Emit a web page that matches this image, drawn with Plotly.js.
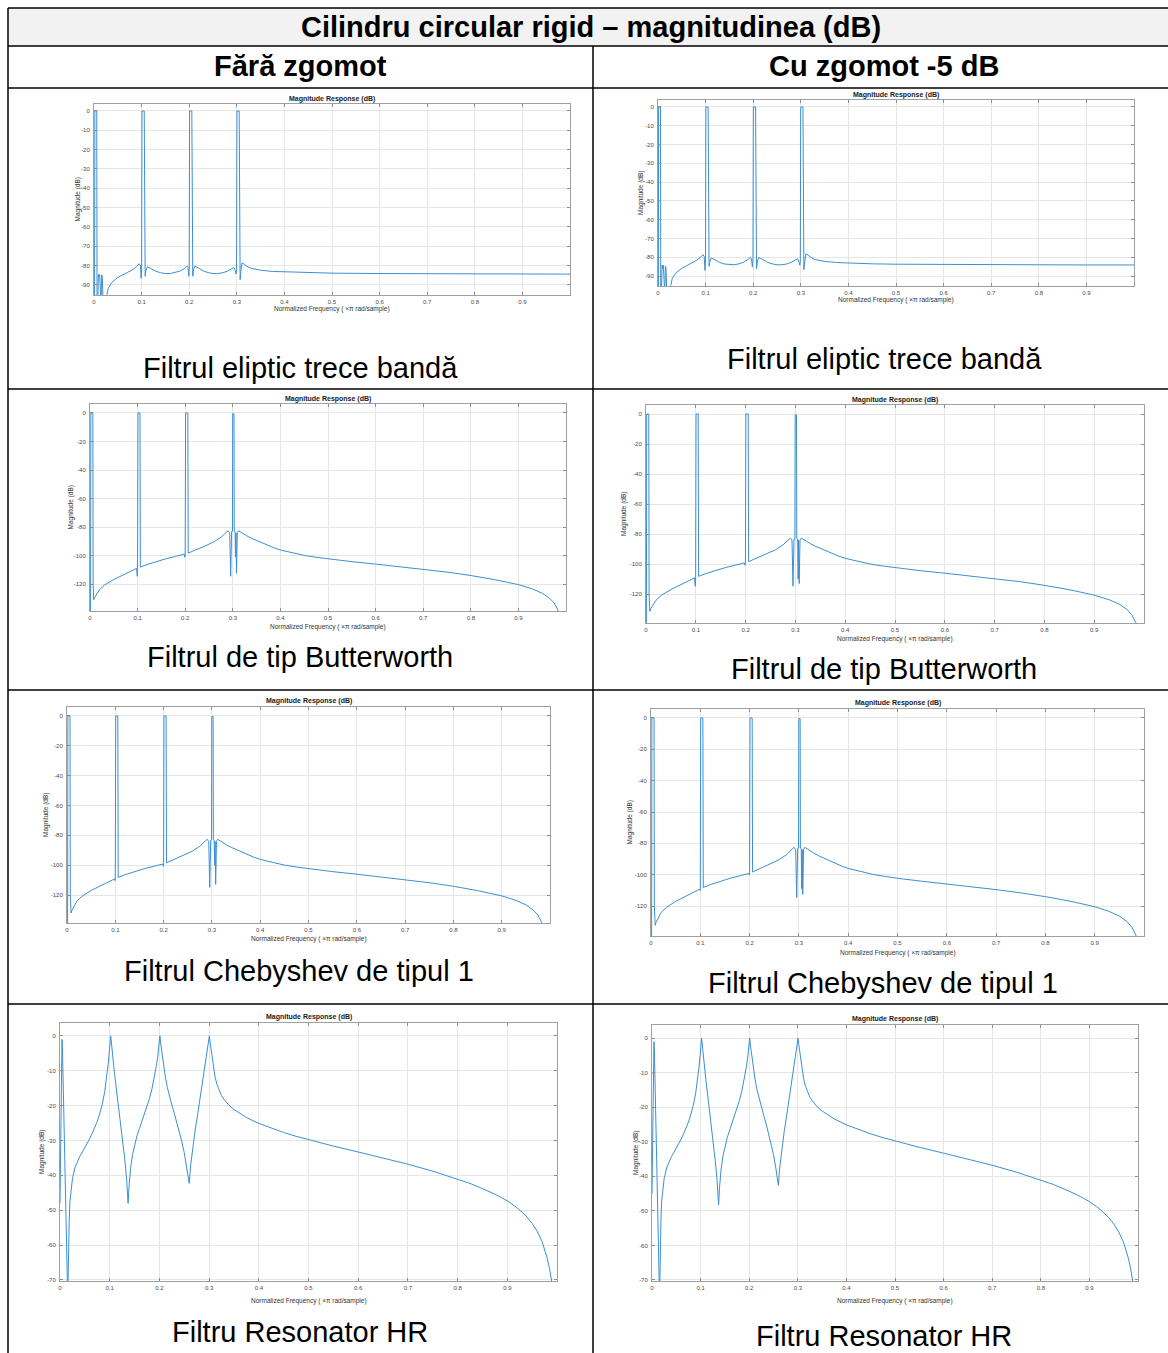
<!DOCTYPE html>
<html><head><meta charset="utf-8">
<script src="https://cdn.plot.ly/plotly-3.0.1.min.js"></script>
<style>html,body{margin:0;padding:0;background:#fff}</style>
</head><body><div id="chart" style="width:1168px;height:1353px"></div>
<script>
// ---------- DATA (normalized frequency, magnitude dB) ----------
const ellipticClean = [[0,-100],[0.0012,-100],[0.0018,0],[0.0058,0],[0.0064,-100],[0.0078,-100],[0.0092,-84.6],[0.0105,-86],[0.0118,-84.6],[0.0132,-100],[0.0148,-100],[0.0162,-84.8],[0.0176,-86.5],[0.0192,-100],[0.024,-100],[0.027,-95],[0.03,-91.8],[0.035,-89.6],[0.04,-88.1],[0.05,-86.1],[0.06,-84.9],[0.07,-83.7],[0.08,-82.3],[0.09,-80.4],[0.095,-79],[0.0975,-79.8],[0.099,-86.5],[0.1,-82],[0.1008,0],[0.1055,0],[0.1063,-82],[0.1075,-85.5],[0.109,-82.5],[0.112,-80.6],[0.12,-81.6],[0.13,-82.9],[0.14,-83.7],[0.15,-84.1],[0.16,-84.1],[0.17,-83.6],[0.18,-82.9],[0.19,-81.5],[0.195,-80.2],[0.1975,-80.9],[0.199,-85.5],[0.2,-82],[0.2008,0],[0.2055,0],[0.2063,-82],[0.2075,-85.5],[0.209,-82],[0.212,-80.3],[0.22,-81.3],[0.23,-82.8],[0.24,-83.6],[0.25,-84.1],[0.26,-84.1],[0.27,-83.7],[0.28,-82.9],[0.29,-81.6],[0.294,-81],[0.2965,-82.5],[0.2985,-84.3],[0.2995,-82],[0.3003,0],[0.305,0],[0.3058,-84],[0.307,-87.3],[0.3085,-83],[0.311,-78.6],[0.315,-79.1],[0.32,-80.2],[0.33,-81.4],[0.35,-82.4],[0.375,-83],[0.4,-83.2],[0.45,-83.7],[0.5,-83.9],[0.6,-84.1],[0.7,-84.2],[0.8,-84.3],[0.9,-84.4],[1.0,-84.4]];

const ellipticNoisy = [[0,-100],[0.0008,-100],[0.0012,0],[0.0052,0],[0.0058,-100],[0.0072,-100],[0.0086,-84.3],[0.01,-86],[0.0113,-84.3],[0.0128,-100],[0.0142,-100],[0.0156,-84.6],[0.017,-86.5],[0.0186,-100],[0.024,-100],[0.027,-95],[0.03,-91.2],[0.035,-89.2],[0.04,-87.8],[0.05,-85.9],[0.06,-84.6],[0.07,-83.3],[0.08,-81.8],[0.09,-79.9],[0.0945,-78.6],[0.097,-79.5],[0.0988,-87],[0.0998,-82],[0.1006,0],[0.1053,0],[0.1061,-82],[0.1073,-84.8],[0.1088,-82.5],[0.112,-80.4],[0.12,-81.4],[0.13,-82.8],[0.14,-83.6],[0.15,-84],[0.16,-84],[0.17,-83.5],[0.18,-82.6],[0.19,-81],[0.194,-80],[0.1965,-80.9],[0.1983,-85.2],[0.1995,-82],[0.2003,0],[0.205,0],[0.2058,-82],[0.207,-86.2],[0.2088,-82],[0.2118,-80.1],[0.22,-81.2],[0.23,-82.7],[0.24,-83.5],[0.25,-84],[0.26,-84],[0.27,-83.6],[0.28,-82.7],[0.29,-81.3],[0.2935,-80.8],[0.296,-82.4],[0.2978,-84.2],[0.299,-82],[0.2998,0],[0.3045,0],[0.3053,-83.5],[0.3065,-86.6],[0.308,-83],[0.3108,-78.2],[0.315,-78.8],[0.32,-79.9],[0.33,-81.2],[0.35,-82.2],[0.375,-82.8],[0.4,-83.1],[0.45,-83.5],[0.5,-83.7],[0.6,-83.9],[0.7,-84],[0.8,-84],[0.9,-84.1],[1.0,-84.1]];

const butterClean = [[0,-150],[0.0012,-150],[0.0018,0],[0.006,0],[0.0066,-120],[0.0078,-131],[0.01,-129.3],[0.015,-126.3],[0.02,-124],[0.03,-120.8],[0.04,-118.6],[0.05,-116.8],[0.06,-115.2],[0.07,-113.7],[0.08,-112.2],[0.09,-110.5],[0.098,-109],[0.0993,-114.5],[0.1,-109],[0.1008,0],[0.105,0],[0.1058,-108.2],[0.107,-107.9],[0.12,-106.3],[0.14,-104.1],[0.16,-102.2],[0.18,-100.6],[0.198,-99],[0.1993,-101.2],[0.2,-99],[0.2008,0],[0.2055,0],[0.2063,-98.3],[0.208,-98],[0.22,-96.3],[0.24,-93.6],[0.26,-90.4],[0.275,-87.2],[0.285,-84.3],[0.29,-82.6],[0.2935,-84],[0.2955,-114.5],[0.2975,-83.2],[0.2993,-83],[0.2998,-0.5],[0.3025,-0.5],[0.303,-83],[0.3048,-83.3],[0.3057,-101],[0.3066,-84],[0.3078,-112.5],[0.3095,-84],[0.312,-82.6],[0.32,-84.4],[0.33,-86.3],[0.34,-88],[0.35,-89.5],[0.3625,-91.3],[0.375,-93],[0.3875,-94.7],[0.4,-96.1],[0.425,-98.2],[0.45,-99.9],[0.475,-101.2],[0.5,-102.4],[0.55,-104.3],[0.6,-106],[0.65,-107.7],[0.7,-109.5],[0.75,-111.6],[0.8,-114],[0.85,-116.9],[0.9,-120.4],[0.93,-123.5],[0.95,-126.4],[0.965,-129.8],[0.975,-133.3],[0.985,-139.5],[0.99,-150]];

const butterNoisy = [[0,-150],[0.0008,-150],[0.0014,0],[0.0056,0],[0.0062,-120],[0.0076,-131.5],[0.01,-129.5],[0.015,-126.5],[0.02,-124.2],[0.03,-121],[0.04,-118.8],[0.05,-117],[0.06,-115.4],[0.07,-113.8],[0.08,-112.3],[0.09,-110.6],[0.0975,-109.2],[0.099,-114.8],[0.0997,-109],[0.1005,0],[0.1048,0],[0.1056,-108.4],[0.107,-108],[0.12,-106.4],[0.14,-104.2],[0.16,-102.3],[0.18,-100.7],[0.1975,-99.2],[0.199,-100.8],[0.1997,-99],[0.2005,0],[0.2052,0],[0.206,-98.4],[0.208,-98.1],[0.22,-96.4],[0.24,-93.7],[0.26,-90.5],[0.275,-87.3],[0.285,-84.4],[0.29,-82.7],[0.2932,-84],[0.2952,-114.8],[0.2972,-83.3],[0.299,-83],[0.2996,-0.6],[0.3022,-0.6],[0.3028,-83],[0.3045,-83.4],[0.3055,-110],[0.3064,-84],[0.3076,-113],[0.3093,-84],[0.3118,-82.7],[0.32,-84.5],[0.33,-86.4],[0.34,-88.1],[0.35,-89.6],[0.3625,-91.4],[0.375,-93.1],[0.3875,-94.8],[0.4,-96.2],[0.425,-98.3],[0.45,-100],[0.475,-101.3],[0.5,-102.5],[0.55,-104.4],[0.6,-106.1],[0.65,-107.8],[0.7,-109.6],[0.75,-111.7],[0.8,-114.2],[0.85,-117.1],[0.9,-120.7],[0.93,-123.8],[0.95,-126.7],[0.965,-130.1],[0.975,-133.6],[0.985,-139.8],[0.99,-150]];

const chebyClean = [[0,-150],[0.0012,-150],[0.0018,0],[0.0062,0],[0.0068,-120],[0.0085,-132],[0.01,-130.4],[0.015,-126.8],[0.02,-124.3],[0.03,-121],[0.04,-118.7],[0.05,-116.9],[0.06,-115.3],[0.07,-113.7],[0.08,-112.2],[0.09,-110.5],[0.0985,-109.2],[0.0995,-110.3],[0.1,-109],[0.1008,0],[0.1052,0],[0.106,-108.3],[0.107,-108],[0.12,-106.4],[0.14,-104.2],[0.16,-102.3],[0.18,-100.7],[0.198,-99.2],[0.1993,-100.6],[0.2,-99],[0.2008,0],[0.2052,0],[0.206,-98.4],[0.208,-98.1],[0.22,-96.4],[0.24,-93.7],[0.26,-90.5],[0.275,-87.3],[0.285,-84.4],[0.29,-82.6],[0.2935,-84],[0.2955,-114.8],[0.2975,-83.2],[0.2993,-83],[0.2998,-0.3],[0.3025,-0.3],[0.303,-83],[0.3048,-83.3],[0.3057,-100],[0.3066,-84],[0.3078,-112.8],[0.3095,-84],[0.312,-82.6],[0.32,-84.4],[0.33,-86.3],[0.34,-88],[0.35,-89.5],[0.3625,-91.3],[0.375,-93],[0.3875,-94.7],[0.4,-96.1],[0.425,-98.2],[0.45,-99.9],[0.475,-101.2],[0.5,-102.4],[0.55,-104.3],[0.6,-106],[0.65,-107.8],[0.7,-109.6],[0.75,-111.7],[0.8,-114.1],[0.85,-117],[0.9,-120.5],[0.93,-123.6],[0.95,-126.5],[0.965,-129.9],[0.975,-133.4],[0.985,-139.6],[0.99,-150]];

const chebyNoisy = [[0,-150],[0.0012,-150],[0.0018,0],[0.0062,0],[0.0068,-120],[0.0085,-132.3],[0.01,-130.5],[0.015,-126.9],[0.02,-124.4],[0.03,-121.1],[0.04,-118.8],[0.05,-117],[0.06,-115.4],[0.07,-113.8],[0.08,-112.3],[0.09,-110.6],[0.0985,-109.3],[0.0995,-110],[0.1,-109.1],[0.1008,0],[0.1052,0],[0.106,-108.3],[0.107,-108],[0.12,-106.4],[0.14,-104.2],[0.16,-102.3],[0.18,-100.7],[0.198,-99.2],[0.1993,-100.2],[0.2,-99],[0.2008,0],[0.2052,0],[0.206,-98.3],[0.208,-98],[0.22,-96.3],[0.24,-93.6],[0.26,-90.4],[0.275,-87.2],[0.285,-84.3],[0.29,-82.5],[0.2935,-84],[0.2955,-114.6],[0.2975,-83.2],[0.2993,-83],[0.2998,-0.4],[0.3025,-0.4],[0.303,-83],[0.3048,-83.3],[0.3057,-109],[0.3066,-84],[0.3078,-112.6],[0.3095,-84],[0.312,-82.5],[0.32,-84.3],[0.33,-86.2],[0.34,-87.9],[0.35,-89.4],[0.3625,-91.2],[0.375,-92.9],[0.3875,-94.6],[0.4,-96],[0.425,-98.1],[0.45,-99.8],[0.475,-101.1],[0.5,-102.3],[0.55,-104.2],[0.6,-105.9],[0.65,-107.7],[0.7,-109.5],[0.75,-111.6],[0.8,-114],[0.85,-116.9],[0.9,-120.4],[0.93,-123.5],[0.95,-126.4],[0.965,-129.8],[0.975,-133.3],[0.985,-139.5],[0.99,-150]];

const resonatorClean = [[0,-48],[0.001,-30],[0.002,-14],[0.003,-5],[0.004,-1],[0.005,-4],[0.006,-11],[0.008,-27],[0.01,-42],[0.012,-55],[0.014,-66],[0.015,-72],[0.016,-72],[0.017,-62],[0.0185,-53],[0.02,-47.5],[0.022,-44],[0.025,-41],[0.03,-37.8],[0.035,-35.9],[0.04,-34.5],[0.045,-33.3],[0.05,-32.1],[0.055,-30.8],[0.06,-29.4],[0.065,-27.9],[0.07,-26.3],[0.075,-24.5],[0.08,-22.3],[0.085,-19.6],[0.09,-16],[0.094,-12],[0.097,-8],[0.099,-5],[0.1005,-2.5],[0.102,0],[0.1035,-2],[0.105,-4.5],[0.108,-8.5],[0.112,-13.5],[0.116,-18],[0.12,-22.6],[0.125,-28.5],[0.13,-35],[0.134,-41],[0.137,-48],[0.139,-43],[0.142,-38],[0.146,-34],[0.15,-31.2],[0.155,-28.6],[0.16,-26.5],[0.165,-24.5],[0.17,-22.5],[0.175,-20.4],[0.18,-18],[0.185,-15.2],[0.19,-11.8],[0.194,-8.5],[0.197,-5.5],[0.1995,-2.5],[0.201,0],[0.2025,-2],[0.205,-4.8],[0.208,-8],[0.212,-11.8],[0.216,-14.8],[0.22,-17.2],[0.225,-19.8],[0.23,-22.2],[0.235,-24.7],[0.24,-27.4],[0.245,-30.3],[0.25,-33.5],[0.255,-37.5],[0.26,-42.3],[0.263,-37],[0.267,-32],[0.272,-27],[0.277,-22.5],[0.282,-18],[0.287,-13.2],[0.291,-9],[0.295,-5],[0.298,-2.5],[0.3005,0],[0.302,-1.8],[0.305,-5.2],[0.308,-8.6],[0.312,-11.8],[0.316,-14],[0.32,-15.6],[0.325,-17.1],[0.33,-18.2],[0.34,-19.9],[0.35,-21.1],[0.36,-22.1],[0.375,-23.4],[0.4,-25.1],[0.425,-26.5],[0.45,-27.7],[0.475,-28.8],[0.5,-29.8],[0.55,-31.6],[0.6,-33.3],[0.65,-35],[0.7,-36.8],[0.75,-38.8],[0.8,-41],[0.825,-42.3],[0.85,-43.8],[0.875,-45.4],[0.9,-47.3],[0.915,-48.8],[0.93,-50.6],[0.94,-52],[0.95,-53.8],[0.96,-56],[0.97,-59],[0.975,-61],[0.98,-63.6],[0.985,-66.8],[0.99,-71]];

const resonatorNoisy = [[0,-45],[0.001,-28],[0.002,-13],[0.003,-5],[0.004,-1],[0.005,-4],[0.006,-11],[0.008,-27],[0.01,-42],[0.012,-55],[0.014,-66],[0.015,-72],[0.016,-72],[0.017,-61],[0.0185,-52],[0.02,-47],[0.022,-43.6],[0.025,-40.7],[0.03,-37.6],[0.035,-35.7],[0.04,-34.3],[0.045,-33.1],[0.05,-31.9],[0.055,-30.6],[0.06,-29.2],[0.065,-27.7],[0.07,-26.1],[0.075,-24.3],[0.08,-22.1],[0.085,-19.4],[0.09,-15.8],[0.094,-11.8],[0.097,-8],[0.099,-5],[0.1005,-2.5],[0.102,0],[0.1035,-2],[0.105,-4.5],[0.108,-8.5],[0.112,-13.6],[0.116,-18.2],[0.12,-22.8],[0.125,-28.8],[0.13,-35.3],[0.134,-41.3],[0.137,-48.3],[0.139,-43.2],[0.142,-38.2],[0.146,-34.1],[0.15,-31.3],[0.155,-28.7],[0.16,-26.6],[0.165,-24.6],[0.17,-22.6],[0.175,-20.4],[0.18,-18],[0.185,-15.2],[0.19,-11.8],[0.194,-8.5],[0.197,-5.5],[0.1995,-2.5],[0.201,0],[0.2025,-2],[0.205,-4.8],[0.208,-8],[0.212,-11.9],[0.216,-14.9],[0.22,-17.3],[0.225,-19.9],[0.23,-22.4],[0.235,-24.9],[0.24,-27.6],[0.245,-30.5],[0.25,-33.7],[0.255,-37.8],[0.26,-42.6],[0.263,-37.2],[0.267,-32.1],[0.272,-27.1],[0.277,-22.5],[0.282,-18],[0.287,-13.2],[0.291,-9],[0.295,-5],[0.298,-2.5],[0.3005,0],[0.302,-1.8],[0.305,-5.2],[0.308,-8.6],[0.312,-11.8],[0.316,-14],[0.32,-15.6],[0.325,-17.1],[0.33,-18.2],[0.34,-19.9],[0.35,-21.1],[0.36,-22.1],[0.375,-23.4],[0.4,-25.1],[0.425,-26.5],[0.45,-27.7],[0.475,-28.8],[0.5,-29.8],[0.55,-31.6],[0.6,-33.3],[0.65,-35],[0.7,-36.8],[0.75,-38.8],[0.8,-41],[0.825,-42.3],[0.85,-43.8],[0.875,-45.4],[0.9,-47.3],[0.915,-48.8],[0.93,-50.6],[0.94,-52],[0.95,-53.8],[0.96,-56],[0.97,-59],[0.975,-61],[0.98,-63.6],[0.985,-66.8],[0.99,-71]];

const xTickVals = [0,0.1,0.2,0.3,0.4,0.5,0.6,0.7,0.8,0.9];
const xTickText = ['0','0.1','0.2','0.3','0.4','0.5','0.6','0.7','0.8','0.9'];
const yTicksEllip = [0,-10,-20,-30,-40,-50,-60,-70,-80,-90];
const yTicksIIR = [0,-20,-40,-60,-80,-100,-120];
const yTicksHR = [0,-10,-20,-30,-40,-50,-60,-70];

const mainTitle = 'Cilindru circular rigid – magnitudinea (dB)';
const colHeaders = ['Fără zgomot','Cu zgomot -5 dB'];
const rowLabels = ['Filtrul eliptic trece bandă','Filtrul de tip Butterworth','Filtrul Chebyshev de tipul 1','Filtru Resonator HR'];
const plotTitle = 'Magnitude Response (dB)';
const xTitle = 'Normalized Frequency ( ×π rad/sample)';
const yTitle = 'Magnitude (dB)';

// ---------- LAYOUT ----------
const W = 1168, H = 1353;
const PX = x => x / W, PY = y => 1 - y / H;
const FONT = 'Liberation Sans, Arial, sans-serif';

const panels = [
  {d: ellipticClean,  box:[94,570,104,295],  yr:[-95.2,3.6],  yt:yTicksEllip, t:99,   xl:309,  yl:77,  lab:[300,368]},
  {d: ellipticNoisy,  box:[658,1134,100,286],yr:[-95.3,3.7],  yt:yTicksEllip, t:95,   xl:300,  yl:641, lab:[884,359]},
  {d: butterClean,    box:[90,566,404,611],  yr:[-138.9,6.3], yt:yTicksIIR,   t:399,  xl:627,  yl:70,  lab:[300,657]},
  {d: butterNoisy,    box:[646,1144,405,623],yr:[-139.3,6],   yt:yTicksIIR,   t:400,  xl:639,  yl:624, lab:[884,669]},
  {d: chebyClean,     box:[67,550,707,923],  yr:[-138.7,6],   yt:yTicksIIR,   t:701,  xl:939,  yl:46,  lab:[299,971]},
  {d: chebyNoisy,     box:[651,1144,709,936],yr:[-139.1,5.7], yt:yTicksIIR,   t:703,  xl:953,  yl:629, lab:[883,983]},
  {d: resonatorClean, box:[60,557,1023,1281],yr:[-70.3,3.7],  yt:yTicksHR,    t:1017, xl:1301, yl:42,  lab:[300,1332]},
  {d: resonatorNoisy, box:[652,1138,1025,1281],yr:[-70.3,3.8],yt:yTicksHR,    t:1019, xl:1301, yl:636, lab:[884,1336]}
];

const traces = [];
const layout = {
  width: W, height: H, autosize: false,
  margin: {l:0, r:0, t:0, b:0},
  paper_bgcolor: '#fff', plot_bgcolor: '#fff',
  showlegend: false,
  font: {family: FONT},
  shapes: [], annotations: []
};

panels.forEach((p, i) => {
  const k = i + 1, sfx = k === 1 ? '' : String(k);
  const [l, r, t, b] = p.box;
  traces.push({
    x: p.d.map(v => v[0]), y: p.d.map(v => v[1]),
    xaxis: 'x' + sfx, yaxis: 'y' + sfx,
    mode: 'lines', line: {color: '#3b8fd2', width: 1, shape: 'linear'}, hoverinfo: 'skip'
  });
  const common = {
    ticks: 'inside', ticklen: 3, tickcolor: '#8c8c8c', tickwidth: 1,
    showline: true, linecolor: '#a0a0a0', linewidth: 1, mirror: 'ticks',
    showgrid: true, gridcolor: '#e6e6e6', gridwidth: 1, zeroline: false,
    tickfont: {size: 6, color: '#4a4a4a', family: FONT}, fixedrange: true,
    tickmode: 'array'
  };
  layout['xaxis' + sfx] = Object.assign({}, common, {
    domain: [PX(l), PX(r)], range: [0, 1], anchor: 'y' + sfx,
    tickvals: xTickVals, ticktext: xTickText, ticklabelstandoff: 1
  });
  layout['yaxis' + sfx] = Object.assign({}, common, {
    domain: [PY(b), PY(t)], range: p.yr, anchor: 'x' + sfx,
    tickvals: p.yt, ticktext: p.yt.map(v => String(v)), ticklabelstandoff: 2
  });
  const cx = (l + r) / 2, cy = (t + b) / 2;
  layout.annotations.push(
    {text: '<b>' + plotTitle + '</b>', x: PX(cx), y: PY(p.t), xref:'paper', yref:'paper',
     showarrow:false, xanchor:'center', yanchor:'middle', font:{size:7, color:'#1a1a1a', family:FONT}},
    {text: xTitle, x: PX(cx), y: PY(p.xl), xref:'paper', yref:'paper',
     showarrow:false, xanchor:'center', yanchor:'middle', font:{size:6.5, color:'#333', family:FONT}},
    {text: yTitle, x: PX(p.yl), y: PY(cy), xref:'paper', yref:'paper', textangle:-90,
     showarrow:false, xanchor:'center', yanchor:'middle', font:{size:6.5, color:'#333', family:FONT}},
    {text: rowLabels[Math.floor(i/2)], x: PX(p.lab[0]), y: PY(p.lab[1]), xref:'paper', yref:'paper',
     showarrow:false, xanchor:'center', yanchor:'middle', font:{size:29, color:'#000', family:FONT}}
  );
});

// table header texts
layout.annotations.push(
  {text:'<b>' + mainTitle + '</b>', x:PX(591), y:PY(27), xref:'paper', yref:'paper', showarrow:false,
   xanchor:'center', yanchor:'middle', font:{size:29, color:'#000', family:FONT}},
  {text:'<b>' + colHeaders[0] + '</b>', x:PX(300), y:PY(66), xref:'paper', yref:'paper', showarrow:false,
   xanchor:'center', yanchor:'middle', font:{size:29, color:'#000', family:FONT}},
  {text:'<b>' + colHeaders[1] + '</b>', x:PX(884), y:PY(66), xref:'paper', yref:'paper', showarrow:false,
   xanchor:'center', yanchor:'middle', font:{size:29, color:'#000', family:FONT}}
);

// table lines
const L = {color:'#000', width:1.5};
const hline = (y, x0, x1) => ({type:'line', xref:'paper', yref:'paper', x0:PX(x0), x1:PX(x1), y0:PY(y), y1:PY(y), line:L});
const vline = (x, y0, y1) => ({type:'line', xref:'paper', yref:'paper', x0:PX(x), x1:PX(x), y0:PY(y0), y1:PY(y1), line:L});
layout.shapes.push(
  {type:'rect', xref:'paper', yref:'paper', x0:PX(8), x1:PX(1168), y0:PY(46), y1:PY(8), fillcolor:'#f2f2f2', line:{width:0}, layer:'below'},
  hline(8, 8, 1168), hline(46, 8, 1168), hline(88, 8, 1168),
  hline(389, 8, 1168), hline(690, 8, 1168), hline(1004, 8, 1168),
  vline(8, 8, 1353), vline(593, 46, 1353)
);

Plotly.newPlot('chart', traces, layout, {staticPlot: true, displayModeBar: false});
</script>
</body></html>
